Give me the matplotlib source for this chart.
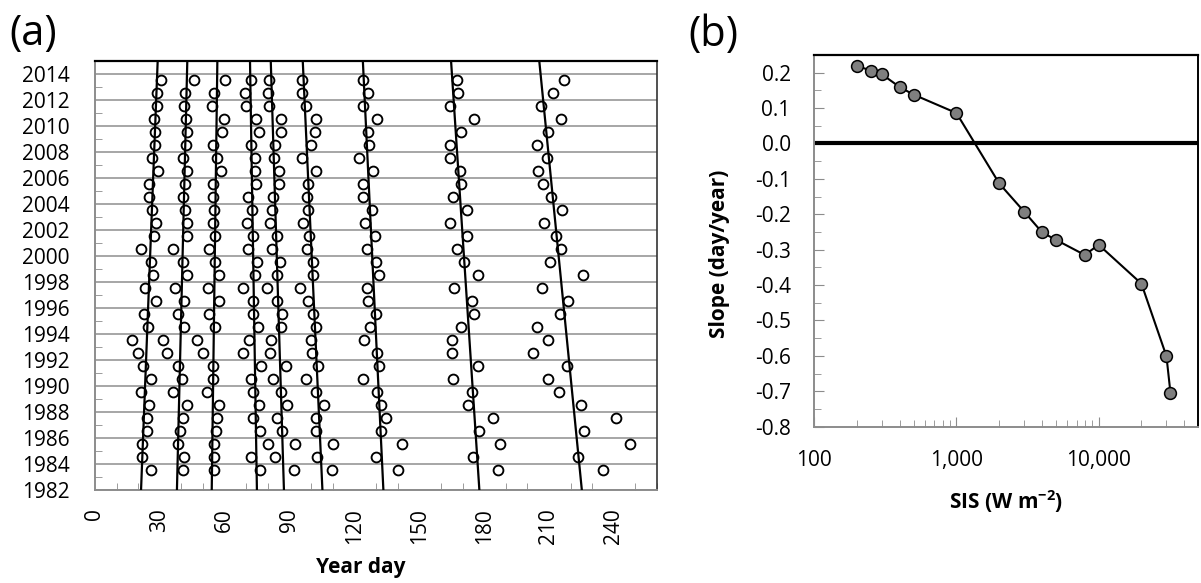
import numpy as np
import matplotlib
matplotlib.use("Agg")
from matplotlib import pyplot as plt
from matplotlib.ticker import MultipleLocator, FixedLocator, LogLocator, NullFormatter, FuncFormatter

plt.rcParams['font.family'] = ['Open Sans', 'DejaVu Sans']
plt.rcParams['mathtext.fontset'] = 'custom'
plt.rcParams['mathtext.rm'] = 'Open Sans'
plt.rcParams['mathtext.bf'] = 'Open Sans:bold'

# (a) year day of each event, years 1983..2013
years = np.arange(1983, 2014)
grp1 = [25.9, 21.6, 21.9, 23.9, 23.9, 25.1, 21.4, 25.9, 22.4, 19.7, 17.0, 24.7, 22.8, 28.1, 23.1, 26.7,
        25.9, 21.3, 27.3, 28.4, 26.2, 25.0, 25.0, 29.1, 26.4, 27.6, 27.6, 27.3, 28.5, 28.8, 30.5]
grp2 = [40.6, 41.3, 38.6, 39.3, 40.9, 42.7, 35.9, 40.4, 38.2, 33.5, 31.3, 41.3, 38.2, 41.3, 37.0, 42.6,
        40.7, 36.2, 42.4, 42.4, 41.8, 40.6, 41.8, 42.4, 40.6, 41.9, 42.4, 42.1, 41.0, 41.6, 45.8]
grp3 = [55.1, 55.1, 55.2, 56.0, 56.6, 57.5, 51.8, 54.7, 54.4, 50.1, 47.3, 55.5, 52.6, 57.5, 52.1, 57.5,
        55.5, 52.7, 55.5, 54.7, 55.1, 54.7, 54.7, 58.3, 56.3, 54.4, 58.6, 59.7, 54.1, 55.2, 60.1]
grp4 = [76.3, 72.2, 79.9, 76.3, 73.0, 76.0, 73.3, 72.0, 76.6, 68.6, 71.4, 75.6, 73.1, 73.3, 68.6, 74.2,
        74.8, 70.6, 73.0, 70.2, 72.8, 70.8, 74.3, 73.9, 73.9, 72.0, 75.9, 74.3, 69.7, 69.2, 72.0]
grp5 = [92.1, 83.3, 92.5, 86.5, 84.4, 88.7, 86.1, 82.5, 88.4, 81.0, 81.3, 86.1, 86.4, 84.0, 79.4, 84.0,
        85.6, 82.0, 84.0, 81.0, 82.0, 82.2, 85.1, 85.0, 82.8, 83.4, 85.9, 86.2, 80.7, 79.9, 80.5]
grp6 = [109.5, 102.8, 110.3, 102.2, 102.2, 105.9, 102.2, 97.6, 103.3, 100.5, 99.8, 102.2, 101.0, 98.7,
        94.8, 100.7, 101.0, 97.9, 99.2, 96.1, 98.7, 98.2, 98.7, 102.2, 95.6, 99.8, 101.8, 102.2, 97.6,
        95.6, 95.6]
grp7 = [140.0, 130.0, 141.9, 132.2, 134.6, 132.2, 130.3, 124.1, 131.4, 130.3, 124.5, 127.2, 129.8,
        126.5, 125.7, 131.4, 130.0, 126.0, 129.5, 124.9, 128.0, 124.1, 124.1, 128.8, 122.3, 126.9,
        126.5, 130.3, 123.9, 126.5, 124.1]
grp8 = [186.6, 175.0, 187.4, 177.8, 184.1, 172.7, 174.2, 165.5, 177.3, 165.0, 165.0, 169.3, 175.5,
        174.2, 166.1, 177.0, 170.9, 167.6, 172.0, 164.0, 172.3, 165.5, 169.2, 168.9, 164.0, 164.3,
        169.3, 175.5, 164.0, 167.8, 167.6]
grp9 = [234.9, 223.6, 247.5, 226.4, 241.0, 224.6, 214.8, 209.4, 218.2, 202.5, 209.4, 204.3, 215.1,
        219.0, 207.0, 225.6, 210.5, 215.4, 213.1, 207.9, 216.2, 211.0, 207.4, 205.1, 209.3, 204.3,
        209.7, 215.6, 206.3, 212.0, 217.1]

# trend lines: day at 1982 and at 2015
trend_1982 = [21.3, 37.9, 54.0, 74.9, 87.4, 105.2, 133.4, 177.8, 225.2]
trend_2015 = [29.0, 42.7, 56.6, 71.7, 81.3, 96.1, 123.9, 164.7, 205.5]

# (b) slope vs SIS threshold
sis = [200, 250, 300, 400, 500, 1000, 2000, 3000, 4000, 5000, 8000, 10000, 20000, 30000, 32000]
slope = [0.219, 0.206, 0.195, 0.159, 0.138, 0.086, -0.113, -0.193, -0.251, -0.272, -0.315, -0.286,
         -0.396, -0.601, -0.704]

grid_grey = '#a6a6a6'
spine_grey = '#8c8c8c'


def slope_fmt(v, pos):
    # avoid "-0.0" at the zero tick
    if abs(v) < 1e-9:
        return '0.0'
    return '%.1f' % v


fig = plt.figure(figsize=(12.01, 5.83), dpi=100)

# ---------------- panel (a)
ax = fig.add_axes([0.0791, 0.1595, 0.468, 0.7364])
for g in [grp1, grp2, grp3, grp4, grp5, grp6, grp7, grp8, grp9]:
    ax.scatter(g, years + 0.5, s=50, facecolors='white', edgecolors='black', linewidths=1.35, zorder=3)
for d0, d1 in zip(trend_1982, trend_2015):
    ax.plot([d0, d1], [1982, 2015], color='black', lw=1.6, zorder=4)

ax.set_xlim(0, 260)
ax.set_ylim(1982, 2015)
ax.set_yticks(np.arange(1982, 2015, 2))
ax.yaxis.set_minor_locator(MultipleLocator(1))
ax.set_xticks(np.arange(0, 241, 30))
ax.xaxis.set_minor_locator(MultipleLocator(10))
ax.grid(axis='y', which='major', color=grid_grey, lw=1.4, zorder=0)
ax.tick_params(axis='x', which='major', direction='in', length=0, labelsize=15, rotation=90, pad=13)
ax.tick_params(axis='x', which='minor', direction='in', length=5, color=spine_grey)
ax.tick_params(axis='y', which='major', direction='in', length=0, labelsize=15, pad=18)
ax.tick_params(axis='y', which='minor', direction='in', length=5, color=spine_grey)
for side in ['left', 'bottom']:
    ax.spines[side].set_color(spine_grey)
    ax.spines[side].set_linewidth(1.4)
ax.spines['top'].set_color('black')
ax.spines['top'].set_linewidth(1.6)
ax.spines['right'].set_color('#333333')
ax.spines['right'].set_linewidth(1.2)
ax.set_xlabel('Year day', fontsize=15, fontweight='bold', va='top')
ax.xaxis.set_label_coords(0.473, -0.156)
fig.text(0.008, 0.9057, '(a)', fontsize=30, ha='left', va='bottom')

# ---------------- panel (b)
bx = fig.add_axes([0.678, 0.2681, 0.3195, 0.6376])
bx.axhline(0, color='black', lw=3, zorder=2)
bx.plot(sis, slope, color='black', lw=1.5, marker='o', markersize=8.5,
        markerfacecolor='#7f7f7f', markeredgecolor='black', markeredgewidth=1.1, zorder=3)
bx.set_xscale('log')
bx.set_xlim(100, 50000)
bx.set_ylim(-0.8, 0.25)
bx.set_yticks(np.round(np.arange(-0.8, 0.21, 0.1), 1))
bx.yaxis.set_major_formatter(FuncFormatter(slope_fmt))
bx.yaxis.set_minor_locator(MultipleLocator(0.05))
bx.xaxis.set_major_locator(FixedLocator([100, 1000, 10000]))
bx.xaxis.set_major_formatter(FuncFormatter(lambda v, p: '{:,.0f}'.format(v)))
bx.xaxis.set_minor_locator(LogLocator(base=10, subs=np.arange(2, 10)))
bx.xaxis.set_minor_formatter(NullFormatter())
bx.tick_params(axis='both', which='major', direction='in', length=7, color=spine_grey, labelsize=15)
bx.tick_params(axis='y', which='major', pad=17)
bx.tick_params(axis='x', which='major', pad=17)
bx.tick_params(axis='both', which='minor', direction='in', length=5, color=spine_grey)
for side in ['left', 'bottom']:
    bx.spines[side].set_color(spine_grey)
    bx.spines[side].set_linewidth(1.4)
bx.spines['top'].set_color('black')
bx.spines['top'].set_linewidth(1.6)
bx.spines['right'].set_color('black')
bx.spines['right'].set_linewidth(1.4)
bx.set_xlabel(r'SIS (W m$^{\mathbf{-2}}$)', fontsize=15, fontweight='bold', va='top')
bx.xaxis.set_label_coords(0.5, -0.165)
bx.set_ylabel('Slope (day/year)', fontsize=15, fontweight='bold')
bx.yaxis.set_label_coords(-0.219, 0.465)
fig.text(0.573, 0.904, '(b)', fontsize=30, ha='left', va='bottom')

fig.savefig('out.png', dpi=100)
